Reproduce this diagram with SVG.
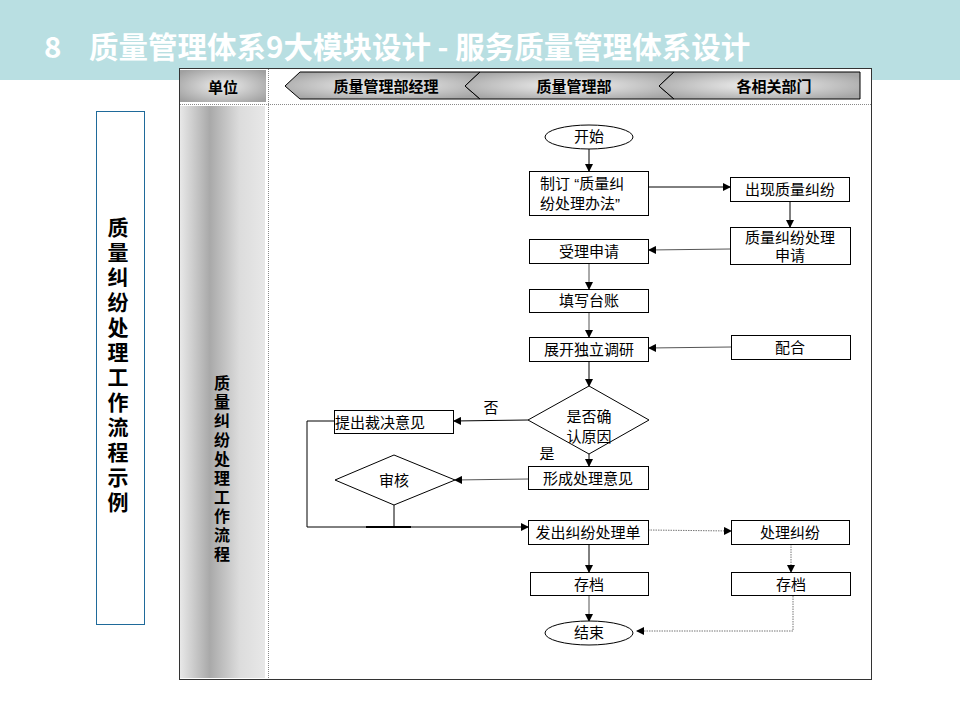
<svg xmlns="http://www.w3.org/2000/svg" width="960" height="720" viewBox="0 0 960 720">
<style>
.t{font-family:"Liberation Sans","Noto Sans CJK SC",sans-serif;font-size:15px;fill:#000}
.hb{font-family:"Noto Sans CJK SC",sans-serif;font-weight:bold;fill:#000}
.box{fill:#fff;stroke:#000;stroke-width:1}
.ln{fill:none;stroke:#000;stroke-width:1}
.lg{fill:none;stroke:#555;stroke-width:1}
.ld{fill:none;stroke:#777;stroke-width:1;stroke-dasharray:1.5 1}
.ttl{font-family:"Noto Sans CJK SC",sans-serif;font-weight:bold;font-size:29.5px;fill:#fff}
</style>
<defs>
<marker id="ar" markerWidth="8" markerHeight="8" refX="7" refY="4" orient="auto" markerUnits="userSpaceOnUse">
<path d="M0,0 L8,4 L0,8 Z" fill="#000"/>
</marker>
<radialGradient id="chev" cx="50%" cy="50%" r="60%">
<stop offset="0" stop-color="#f2f2f2"/>
<stop offset="1" stop-color="#a6a6a6"/>
</radialGradient>
<radialGradient id="unit" cx="50%" cy="50%" r="65%">
<stop offset="0" stop-color="#ededed"/>
<stop offset="1" stop-color="#a0a0a0"/>
</radialGradient>
<linearGradient id="col" x1="0" y1="0" x2="1" y2="0">
<stop offset="0" stop-color="#e8e8e8"/>
<stop offset="0.35" stop-color="#a9a9a9"/>
<stop offset="0.7" stop-color="#dcdcdc"/>
<stop offset="1" stop-color="#e8e8e8"/>
</linearGradient>
</defs>
<rect width="960" height="720" fill="#fff"/>
<rect x="0" y="0" width="960" height="80" fill="#b9dfe2"/>
<text class="ttl" x="44" y="58">8</text>
<text class="ttl" x="89" y="58">质量管理体系9大模块设计 - 服务质量管理体系设计</text>

<g id="frame">
<rect x="179.5" y="68.5" width="692" height="611" fill="#fff" stroke="#333" stroke-width="1"/>
<rect x="180" y="70" width="86" height="32" fill="url(#unit)"/>
<text class="hb" x="223" y="93" font-size="15" text-anchor="middle">单位</text>
<rect x="180" y="106" width="85" height="572" fill="url(#col)"/>
<line x1="268.5" y1="69" x2="268.5" y2="679" stroke="#888" stroke-dasharray="1 1"/>
<line x1="180" y1="104.5" x2="871" y2="104.5" stroke="#888" stroke-dasharray="1 1"/>
<text class="hb" font-size="16" text-anchor="middle"><tspan x="222" y="389">质</tspan><tspan x="222" y="408">量</tspan><tspan x="222" y="427">纠</tspan><tspan x="222" y="446">纷</tspan><tspan x="222" y="465">处</tspan><tspan x="222" y="484">理</tspan><tspan x="222" y="503">工</tspan><tspan x="222" y="522">作</tspan><tspan x="222" y="541">流</tspan><tspan x="222" y="560">程</tspan></text>
</g>

<g id="lanes">
<polygon points="285,86 300,72 480,72 465,86 480,99 300,99" fill="url(#chev)" stroke="#000"/>
<polygon points="465,86 480,72 674,72 659,86 674,99 480,99" fill="url(#chev)" stroke="#000"/>
<polygon points="659,86 674,72 860,72 860,99 674,99" fill="url(#chev)" stroke="#000"/>
<text class="hb" x="386" y="92" font-size="15" text-anchor="middle">质量管理部经理</text>
<text class="hb" x="574" y="92" font-size="15" text-anchor="middle">质量管理部</text>
<text class="hb" x="774" y="92" font-size="15" text-anchor="middle">各相关部门</text>
</g>

<g id="sidebox">
<rect x="96.5" y="111.5" width="48" height="513" fill="#fff" stroke="#1f6a9a" stroke-width="1"/>
<text class="hb" font-size="21" text-anchor="middle"><tspan x="118" y="235">质</tspan><tspan x="118" y="260">量</tspan><tspan x="118" y="285">纠</tspan><tspan x="118" y="310">纷</tspan><tspan x="118" y="335">处</tspan><tspan x="118" y="360">理</tspan><tspan x="118" y="385">工</tspan><tspan x="118" y="410">作</tspan><tspan x="118" y="435">流</tspan><tspan x="118" y="460">程</tspan><tspan x="118" y="485">示</tspan><tspan x="118" y="510">例</tspan></text>
</g>

<g id="connectors">
<line class="ln" x1="589" y1="149" x2="589" y2="171" marker-end="url(#ar)"/>
<line class="ln" x1="649" y1="187" x2="730" y2="187" marker-end="url(#ar)"/>
<line class="ln" x1="790" y1="201" x2="790" y2="227" marker-end="url(#ar)"/>
<line class="lg" x1="730" y1="249" x2="649" y2="250" marker-end="url(#ar)"/>
<line class="lg" x1="589" y1="264" x2="589" y2="289" marker-end="url(#ar)"/>
<line class="lg" x1="589" y1="313" x2="589" y2="337" marker-end="url(#ar)"/>
<line class="lg" x1="731" y1="347" x2="649" y2="348" marker-end="url(#ar)"/>
<line class="ln" x1="589" y1="361" x2="589" y2="386" marker-end="url(#ar)"/>
<line class="ln" x1="528" y1="420" x2="454" y2="421" marker-end="url(#ar)"/>
<line class="ln" x1="589" y1="454" x2="589" y2="466" marker-end="url(#ar)"/>
<line class="lg" x1="528" y1="479" x2="455" y2="480" marker-end="url(#ar)"/>
<polyline class="ln" points="334,421 307,421 307,527 528,527" marker-end="url(#ar)"/>
<line class="ln" x1="394" y1="505" x2="394" y2="527"/>
<line x1="366" y1="527" x2="411" y2="527" stroke="#000" stroke-width="2"/>
<line class="ld" x1="648" y1="530" x2="731" y2="531" marker-end="url(#ar)"/>
<line class="ln" x1="589" y1="544" x2="589" y2="572" marker-end="url(#ar)"/>
<line class="ld" x1="791" y1="544" x2="791" y2="572" marker-end="url(#ar)"/>
<line class="lg" x1="589" y1="596" x2="589" y2="621" marker-end="url(#ar)"/>
<polyline class="ld" points="793,596 793,631 637,631" marker-end="url(#ar)"/>
</g>

<g id="start"><ellipse class="box" cx="589" cy="137" rx="44" ry="12"/><text class="t" x="589" y="142" text-anchor="middle">开始</text></g>
<g id="n1"><rect class="box" x="529.5" y="171.5" width="119" height="44"/><text class="t" x="540" y="189">制订 “质量纠</text><text class="t" x="540" y="209">纷处理办法”</text></g>
<g id="n2"><rect class="box" x="730.5" y="177.5" width="119" height="24"/><text class="t" x="790" y="195" text-anchor="middle">出现质量纠纷</text></g>
<g id="n3"><rect class="box" x="730.5" y="227.5" width="120" height="37"/><text class="t" x="790" y="243" text-anchor="middle">质量纠纷处理</text><text class="t" x="790" y="261" text-anchor="middle">申请</text></g>
<g id="n4"><rect class="box" x="529.5" y="239.5" width="119" height="24"/><text class="t" x="589" y="257" text-anchor="middle">受理申请</text></g>
<g id="n5"><rect class="box" x="529.5" y="289.5" width="119" height="23"/><text class="t" x="589" y="306" text-anchor="middle">填写台账</text></g>
<g id="n6"><rect class="box" x="529.5" y="337.5" width="119" height="24"/><text class="t" x="589" y="355" text-anchor="middle">展开独立调研</text></g>
<g id="n7"><rect class="box" x="731.5" y="335.5" width="119" height="24"/><text class="t" x="790" y="353" text-anchor="middle">配合</text></g>
<g id="d1"><polygon class="box" points="589,386 649,420 589,454 528,420"/><text class="t" x="589" y="422" text-anchor="middle">是否确</text><text class="t" x="589" y="442" text-anchor="middle">认原因</text></g>
<g id="n8"><rect class="box" x="334.5" y="410.5" width="119" height="23"/><text class="t" x="335" y="428">提出裁决意见</text></g>
<g id="lbl-no"><text class="t" x="491" y="413" text-anchor="middle">否</text></g>
<g id="lbl-yes"><text class="t" x="547" y="459" text-anchor="middle">是</text></g>
<g id="n9"><rect class="box" x="528.5" y="466.5" width="120" height="23"/><text class="t" x="588" y="484" text-anchor="middle">形成处理意见</text></g>
<g id="d2"><polygon class="box" points="394,455 455,480 394,505 335,480"/><text class="t" x="394" y="486" text-anchor="middle">审核</text></g>
<g id="n10"><rect class="box" x="528.5" y="520.5" width="120" height="24"/><text class="t" x="588" y="538" text-anchor="middle">发出纠纷处理单</text></g>
<g id="n11"><rect class="box" x="731.5" y="520.5" width="118" height="24"/><text class="t" x="790" y="538" text-anchor="middle">处理纠纷</text></g>
<g id="n12"><rect class="box" x="530.5" y="572.5" width="118" height="23"/><text class="t" x="589" y="590" text-anchor="middle">存档</text></g>
<g id="n13"><rect class="box" x="731.5" y="572.5" width="119" height="23"/><text class="t" x="791" y="590" text-anchor="middle">存档</text></g>
<g id="end"><ellipse class="box" cx="589" cy="633" rx="44" ry="12"/><text class="t" x="589" y="638" text-anchor="middle">结束</text></g>
</svg>
